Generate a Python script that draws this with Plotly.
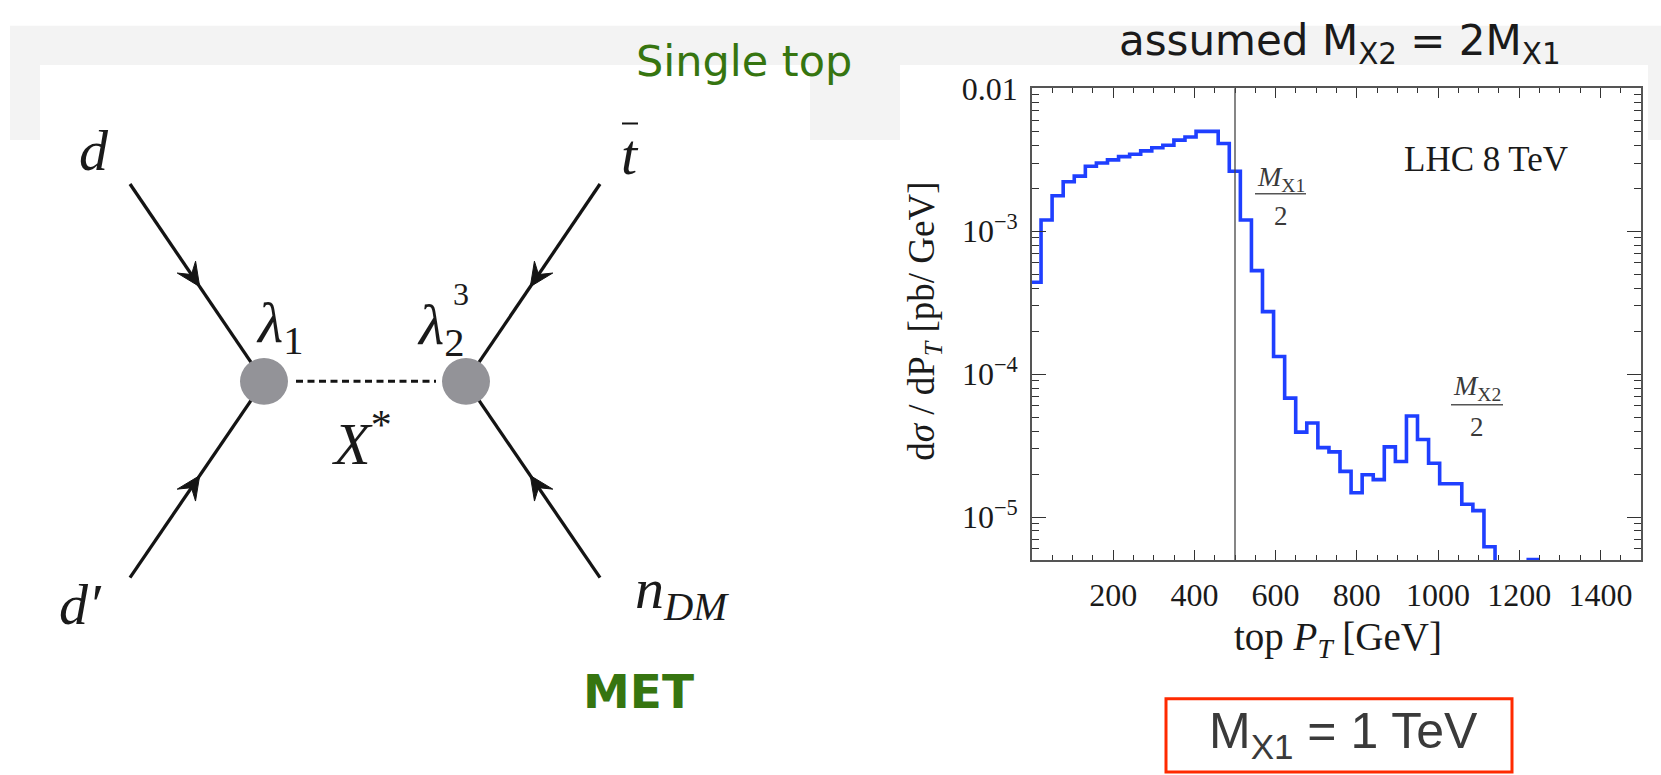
import plotly.graph_objects as go

W, H = 1661, 775

# ---------------- data ----------------
# histogram bin edges in top P_T [GeV]
pt_edges = [-5, 22.3, 49.5, 76.8, 104.1, 131.4, 158.6, 185.9, 213.2, 240.5,
            267.7, 295.0, 322.3, 349.5, 376.8, 404.1, 431.4, 458.6, 485.9, 513.2,
            540.5, 567.7, 595.0, 622.3, 649.5, 676.8, 704.1, 731.4, 758.6, 785.9,
            813.2, 840.5, 867.7, 895.0, 922.3, 949.5, 976.8, 1004.1, 1031.4, 1058.6,
            1085.9, 1113.2, 1140.5, 1167.7, 1195.0, 1222.3, 1249.5]
# d sigma / d P_T [pb/GeV] per bin
dsigma = [4.4e-4, 1.20e-3, 1.77e-3, 2.22e-3, 2.43e-3, 2.85e-3, 3.00e-3, 3.16e-3, 3.33e-3, 3.46e-3,
          3.65e-3, 3.84e-3, 4.00e-3, 4.34e-3, 4.57e-3, 5.00e-3, 5.00e-3, 4.11e-3, 2.63e-3, 1.20e-3,
          5.30e-4, 2.74e-4, 1.33e-4, 6.80e-5, 3.93e-5, 4.55e-5, 3.06e-5, 2.86e-5, 2.09e-5, 1.48e-5,
          1.98e-5, 1.83e-5, 3.10e-5, 2.45e-5, 5.10e-5, 3.49e-5, 2.38e-5, 1.71e-5, 1.71e-5, 1.23e-5,
          1.11e-5, 6.20e-6, 2.0e-6, 2.0e-6, 2.0e-6, 5.05e-6]
mx1_half = 500  # GeV, vertical marker

x_tickvals = [200, 400, 600, 800, 1000, 1200, 1400]
x_ticktext = ["200", "400", "600", "800", "1000", "1200", "1400"]
x_minor = [50, 100, 150, 250, 300, 350, 450, 500, 550, 650, 700, 750, 850, 900, 950,
           1050, 1100, 1150, 1250, 1300, 1350, 1450]
y_tickvals = [1e-5, 1e-4, 1e-3, 1e-2]
y_ticktext = ["10<sup>\u22125</sup>", "10<sup>\u22124</sup>", "10<sup>\u22123</sup>", "0.01"]
y_minor = [m * 10.0 ** e for e in (-6, -5, -4, -3) for m in range(2, 10)]

# ---------------- figure ----------------
SERIF = "Liberation Serif"
fig = go.Figure()

# histogram outline
fig.add_trace(go.Scatter(
    x=pt_edges, y=dsigma + [dsigma[-1]], mode="lines", line_shape="hv",
    line=dict(color="#1f3fff", width=3.6), hoverinfo="skip", showlegend=False,
    xaxis="x", yaxis="y"))

# ---- Feynman diagram (pixel coordinates on an overlay axis) ----
V1, V2 = (264, 372), (466, 372)
ENDS = {"TL": ((130, 170), V1), "BL": ((130, 573), V1),
        "TR": ((600, 170), V2), "BR": ((600, 573), V2)}
for (p0, p1) in ENDS.values():
    fig.add_trace(go.Scatter(x=[p0[0], p1[0]], y=[p0[1], p1[1]], mode="lines",
                             line=dict(color="#141414", width=3.3), hoverinfo="skip",
                             showlegend=False, xaxis="x2", yaxis="y2"))
    # arrowhead pointing toward the vertex
    dx, dy = p1[0] - p0[0], p1[1] - p0[1]
    ln = (dx * dx + dy * dy) ** 0.5
    ux, uy = dx / ln, dy / ln
    nx, ny = -uy, ux
    t = 0.52
    tx, ty = p0[0] + t * dx, p0[1] + t * dy
    L, Wd = 24, 11
    bx, by = tx - L * ux, ty - L * uy
    kx, ky = tx - 0.62 * L * ux, ty - 0.62 * L * uy
    fig.add_trace(go.Scatter(
        x=[tx, bx + Wd * nx, kx, bx - Wd * nx, tx],
        y=[ty, by + Wd * ny, ky, by - Wd * ny, ty],
        mode="lines", fill="toself", fillcolor="#141414",
        line=dict(color="#141414", width=1), hoverinfo="skip",
        showlegend=False, xaxis="x2", yaxis="y2"))


def px(x):
    return x / W


def py(y):
    return 1 - y / H


shapes = []
# light grey slide background bands
GRAY = "#f3f3f3"
for (x0, y0, x1, y1) in [(10, 8, W, 48), (10, 48, 40, 125), (810, 48, 900, 125), (1648, 48, W, 125)]:
    shapes.append(dict(type="rect", xref="paper", yref="paper", x0=px(x0), x1=px(x1),
                       y0=py(y1), y1=py(y0), fillcolor=GRAY, line=dict(width=0), layer="below"))

# vertices and propagator
for (cx, cy) in (V1, V2):
    shapes.append(dict(type="circle", xref="x2", yref="y2", x0=cx - 24, x1=cx + 24,
                       y0=cy - 24, y1=cy + 24, fillcolor="#939398", line=dict(width=0)))
shapes.append(dict(type="line", xref="x2", yref="y2", x0=296, x1=436, y0=372, y1=372,
                   line=dict(color="#141414", width=3, dash="7px,4.5px")))
# bar over t
shapes.append(dict(type="line", xref="x2", yref="y2", x0=622, x1=638, y0=108, y1=108,
                   line=dict(color="#141414", width=2)))
# fraction bars
shapes.append(dict(type="line", xref="x2", yref="y2", x0=1255, x1=1306, y0=180, y1=180,
                   line=dict(color="#555555", width=1.5)))
shapes.append(dict(type="line", xref="x2", yref="y2", x0=1451, x1=1503, y0=396, y1=396,
                   line=dict(color="#555555", width=1.5)))
# vertical marker at M_X1/2
shapes.append(dict(type="line", xref="x", yref="y domain", x0=mx1_half, x1=mx1_half, y0=0, y1=1,
                   line=dict(color="#444444", width=1.3)))
# red box
shapes.append(dict(type="rect", xref="x2", yref="y2", x0=1166, x1=1512, y0=697, y1=772,
                   line=dict(color="#ff2a00", width=3), fillcolor="rgba(0,0,0,0)"))


def ann(x, y, text, size, family=SERIF, color="#1a1a1a", angle=0, **kw):
    d = dict(x=x, y=y, xref="x2", yref="y2", text=text, showarrow=False,
             font=dict(family=family, size=size, color=color), textangle=angle,
             xanchor="center", yanchor="middle")
    d.update(kw)
    return d


annotations = [
    ann(744, 44, "Single top", 43, family="DejaVu Sans", color="#367510"),
    ann(638, 690, "<b>MET</b>", 47, family="DejaVu Sans", color="#367510"),
    ann(1340, 26, "assumed M<sub>X2</sub> = 2M<sub>X1</sub>", 42, family="DejaVu Sans", color="#1a1a1a"),
    ann(1343, 734, "M<sub>X1</sub> = 1 TeV", 50, family="Liberation Sans", color="#3a3a3a"),
    # chart labels
    ann(1486, 145, "LHC 8 TeV", 35),
    ann(1281, 164, "<i>M</i><sub>X1</sub>", 28, color="#3a3a3a"),
    ann(1281, 203, "2", 27, color="#3a3a3a"),
    ann(1477, 378, "<i>M</i><sub>X2</sub>", 28, color="#3a3a3a"),
    ann(1477, 419, "2", 27, color="#3a3a3a"),
    ann(925, 311, "d<i>\u03c3</i> / dP<sub><i>T</i></sub> [pb/ GeV]", 37, angle=-90),
    ann(1338, 636, "top <i>P</i><sub><i>T</i></sub> [GeV]", 39),
    # diagram labels
    ann(94, 136, "<i>d</i>", 58),
    ann(630, 140, "<i>t</i>", 58),
    ann(80, 600, "<i>d\u2032</i>", 58),
    ann(682, 588, "<i>n</i><sub><i>DM</i></sub>", 58),
    ann(279, 316, "<i>\u03bb</i><sub>1</sub>", 58),
    ann(440, 318, "<i>\u03bb</i><sub>2</sub>", 58),
    ann(461, 283, "3", 32),
    ann(362, 432, "<i>X</i><sup>*</sup>", 60),
]

fig.update_layout(
    width=W, height=H, margin=dict(l=0, r=0, t=0, b=0),
    paper_bgcolor="white", plot_bgcolor="rgba(0,0,0,0)", showlegend=False,
    shapes=shapes, annotations=annotations,
    xaxis=dict(domain=[1032 / W, 1641 / W], range=[0, 1500], anchor="y",
               tickmode="array", tickvals=x_tickvals, ticktext=x_ticktext,
               ticks="inside", ticklen=10, tickwidth=1.3, tickcolor="#333333",
               showline=True, linecolor="#555555", linewidth=1.6, mirror="allticks",
               showgrid=False, zeroline=False,
               minor=dict(tickmode="array", tickvals=x_minor, ticks="inside", ticklen=5,
                          tickwidth=1.2, tickcolor="#333333", showgrid=False),
               tickfont=dict(family=SERIF, size=32, color="#1a1a1a"), ticklabelstandoff=6),
    yaxis=dict(domain=[1 - 555 / H, 1 - 72 / H], type="log", range=[-5.301, -2], anchor="x",
               tickmode="array", tickvals=y_tickvals, ticktext=y_ticktext,
               ticks="inside", ticklen=14, tickwidth=1.3, tickcolor="#333333",
               showline=True, linecolor="#555555", linewidth=1.6, mirror="allticks",
               showgrid=False, zeroline=False,
               minor=dict(tickmode="array", tickvals=y_minor, ticks="inside", ticklen=7,
                          tickwidth=1.2, tickcolor="#333333", showgrid=False),
               tickfont=dict(family=SERIF, size=32, color="#1a1a1a"), ticklabelstandoff=6),
    xaxis2=dict(domain=[0, 1], range=[0, W], visible=False, anchor="y2", fixedrange=True),
    yaxis2=dict(domain=[0, 1], range=[H, 0], visible=False, anchor="x2", fixedrange=True),
)

fig.write_html("out.html")
